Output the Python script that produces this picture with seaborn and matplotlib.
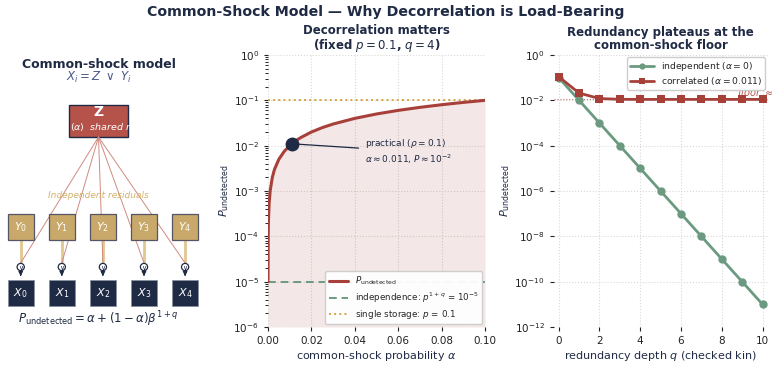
import numpy as np
import pandas as pd
import seaborn as sns
import matplotlib.pyplot as plt
from matplotlib.patches import Rectangle, Circle

# --- data ---
alpha_grid = [0.0, 0.0001, 0.0002, 0.0005, 0.001, 0.002, 0.003, 0.005, 0.0075, 0.01, 0.0125,
              0.015, 0.02, 0.025, 0.03, 0.04, 0.05, 0.06, 0.07, 0.08, 0.09, 0.10]
p_undetected = [1.0e-5, 1.1e-4, 2.1e-4, 5.1e-4, 1.01e-3, 2.01e-3, 3.01e-3, 5.01e-3, 7.51e-3, 1.0e-2, 1.25e-2,
                1.5e-2, 2.0e-2, 2.5e-2, 3.0e-2, 4.0e-2, 5.0e-2, 6.0e-2, 7.0e-2, 8.0e-2, 9.0e-2, 1.0e-1]
indep_floor = 1e-5
single_storage = 0.1
practical_alpha = 0.011
practical_p = 0.011

depth_q = [0, 1, 2, 3, 4, 5, 6, 7, 8, 9, 10]
p_independent = [1e-1, 1e-2, 1e-3, 1e-4, 1e-5, 1e-6, 1e-7, 1e-8, 1e-9, 1e-10, 1e-11]
p_correlated = [0.110, 0.0209, 0.0120, 0.0111, 0.0110, 0.0110, 0.0110, 0.0110, 0.0110, 0.0110, 0.0110]
floor_alpha = 0.011

node_labels = ['0', '1', '2', '3', '4']

NAVY = '#1f2a44'
RED = '#a8403a'
GREEN = '#6b9a80'
GOLD = '#d4a444'
TAN = '#c9a96a'

sns.set_theme(style="ticks")
plt.rcParams['font.family'] = ['DejaVu Sans']
plt.rcParams['axes.unicode_minus'] = False

fig = plt.figure(figsize=(7.72, 3.65), dpi=100)
fig.text(0.5, 1 - 12 / 365, 'Common-Shock Model — Why Decorrelation is Load-Bearing',
         ha='center', va='center', fontsize=10.2, fontweight='bold', color=NAVY)

# ---------------- left: diagram ----------------
axd = fig.add_axes([0, 0, 208 / 772, 1])
axd.set_xlim(0, 208)
axd.set_ylim(365, 0)
axd.axis('off')
axd.text(99, 64, 'Common-shock model', ha='center', va='center', fontsize=9,
         fontweight='bold', color=NAVY)
axd.text(99, 77, r'$X_i = Z\ \vee\ Y_i$', ha='center', va='center', fontsize=8.5, color='#4a5a8a')

zbox = Rectangle((69, 105), 59, 32, facecolor='#b5534a', edgecolor=NAVY, lw=1.0)
axd.add_patch(zbox)
axd.text(98.5, 112, 'Z', ha='center', va='center', color='white', fontsize=10, fontweight='bold')
t = axd.text(70, 127, r'$(\alpha)$  shared root cause', ha='left', va='center', color='white',
             fontsize=6.8, style='italic')
t.set_clip_path(zbox)

xs = [20.7 + 41.1 * i for i in range(len(node_labels))]
axd.text(98, 196, 'Independent residuals', ha='center', va='center', fontsize=6.5,
         style='italic', color='#d4b06a')
for x, lab in zip(xs, node_labels):
    axd.plot([x, x], [240, 262], color='#e0c890', lw=2, zorder=1)
    axd.plot([98.5, x], [137, 263], color='#d08a80', lw=0.7, zorder=2)
    axd.add_patch(Rectangle((x - 13, 214), 26, 26, facecolor=TAN, edgecolor='#555566', lw=0.9, zorder=3))
    axd.text(x, 227, r'$Y_%s$' % lab, ha='center', va='center', color='white', fontsize=8, zorder=4)
    axd.add_patch(Circle((x, 267), 3.6, facecolor='white', edgecolor=NAVY, lw=0.9, zorder=3))
    axd.text(x, 267, r'$\vee$', ha='center', va='center', color=NAVY, fontsize=5, zorder=4)
    axd.annotate('', xy=(x, 279), xytext=(x, 271),
                 arrowprops=dict(arrowstyle='-|>', color=NAVY, lw=1, mutation_scale=6), zorder=3)
    axd.add_patch(Rectangle((x - 13, 280), 26, 26, facecolor=NAVY, edgecolor='#8890a0', lw=0.6, zorder=3))
    axd.text(x, 293, r'$X_%s$' % lab, ha='center', va='center', color='white', fontsize=8, zorder=4)
axd.text(98, 319, r'$P_{\rm undetected} = \alpha + (1-\alpha)\beta^{1+q}$', ha='center', va='center',
         fontsize=8.5, color=NAVY)

# ---------------- middle: decorrelation ----------------
ax1 = fig.add_axes([268 / 772, 1 - 327 / 365, 217 / 772, 272 / 365])
df1 = pd.DataFrame({'alpha': alpha_grid, 'P': p_undetected})
ax1.fill_between(df1['alpha'], 1e-6, df1['P'], color=RED, alpha=0.12, lw=0, zorder=1)
sns.lineplot(data=df1, x='alpha', y='P', ax=ax1, color=RED, lw=2.2, zorder=4,
             label=r'$P_{\rm undetected}$')
ax1.axhline(indep_floor, color=GREEN, ls=(0, (4, 2.5)), lw=1.4, zorder=3,
            label=r'independence: $p^{1+q}$ = $10^{-5}$')
ax1.axhline(single_storage, color=GOLD, ls=':', lw=1.4, zorder=3, label=r'single storage: $p$ = 0.1')
ax1.plot([practical_alpha], [practical_p], 'o', color=NAVY, ms=9, zorder=6)
ax1.annotate('practical ($\\rho = 0.1$)\n$\\alpha \\approx 0.011$, $P \\approx 10^{-2}$',
             xy=(practical_alpha, practical_p), xytext=(0.0445, 0.0075),
             fontsize=6.5, color=NAVY, va='center', ha='left', linespacing=1.3,
             arrowprops=dict(arrowstyle='-', color=NAVY, lw=0.9))
ax1.set_yscale('log')
ax1.set_xlim(0, 0.1)
ax1.set_ylim(1e-6, 1)
ax1.set_xticks([0, 0.02, 0.04, 0.06, 0.08, 0.10])
ax1.set_xticklabels(['0.00', '0.02', '0.04', '0.06', '0.08', '0.10'])
ax1.grid(True, which='major', ls=':', color='#d8d8d8', lw=0.8)
ax1.set_xlabel(r'common-shock probability $\alpha$', fontsize=8, color=NAVY, labelpad=2)
ax1.set_ylabel(r'$P_{\rm undetected}$', fontsize=8, color=NAVY, labelpad=2)
ax1.set_title('Decorrelation matters\n(fixed $p = 0.1$, $q = 4$)', fontsize=8.5,
              fontweight='bold', color=NAVY, pad=4, linespacing=1.0)
ax1.tick_params(which='both', labelsize=7.5, colors='#222222')
ax1.tick_params(which='major', length=3, width=0.8)
ax1.tick_params(axis='y', which='minor', left=True, length=2.2, width=0.7)
ax1.legend(loc='lower right', fontsize=6.3, frameon=True, framealpha=0.95, borderpad=0.4,
           handlelength=2.2, labelspacing=0.35, borderaxespad=0.3)
for s in ax1.spines.values():
    s.set_visible(False)

# ---------------- right: redundancy ----------------
ax2 = fig.add_axes([553.6 / 772, 1 - 327 / 365, 214 / 772, 272 / 365])
df2 = pd.DataFrame({'q': depth_q * 2,
                    'P': p_independent + p_correlated,
                    'series': [r'independent ($\alpha = 0$)'] * len(depth_q)
                              + [r'correlated ($\alpha = 0.011$)'] * len(depth_q)})
sns.lineplot(data=df2, x='q', y='P', hue='series', style='series', ax=ax2,
             palette=[GREEN, RED], markers=['o', 's'], dashes=False, lw=2,
             markersize=6, markeredgewidth=0, zorder=4)
ax2.axhline(floor_alpha, color=RED, ls=':', lw=0.8, alpha=0.7, zorder=2)
ax2.text(8.75, floor_alpha * 1.15, r'floor $\approx \alpha$', color='#b5534a', fontsize=7,
         style='italic', ha='left', va='bottom', clip_on=False, zorder=1)
ax2.set_yscale('log')
ax2.set_ylim(1e-12, 1)
ax2.set_xlim(-0.25, 10.25)
ax2.set_yticks([10.0 ** -k for k in range(0, 13, 2)])
ax2.yaxis.set_minor_locator(plt.NullLocator())
ax2.set_xticks([0, 2, 4, 6, 8, 10])
ax2.grid(True, which='major', ls=':', color='#d8d8d8', lw=0.8)
ax2.set_xlabel(r'redundancy depth $q$ (checked kin)', fontsize=8, color=NAVY, labelpad=2)
ax2.set_ylabel(r'$P_{\rm undetected}$', fontsize=8, color=NAVY, labelpad=2)
ax2.set_title('Redundancy plateaus at the\ncommon-shock floor', fontsize=8.5,
              fontweight='bold', color=NAVY, pad=4, linespacing=1.0)
ax2.tick_params(labelsize=7.5, length=3, width=0.8, colors='#222222')
leg = ax2.legend(loc='upper right', fontsize=6.6, frameon=True, framealpha=0.95, title=None,
                 handlelength=2.6, borderpad=0.3, labelspacing=0.2, borderaxespad=0.25)
for h in leg.legend_handles:
    h.set_markersize(4.5)
for s in ax2.spines.values():
    s.set_visible(False)

fig.savefig('out.png', dpi=100)
